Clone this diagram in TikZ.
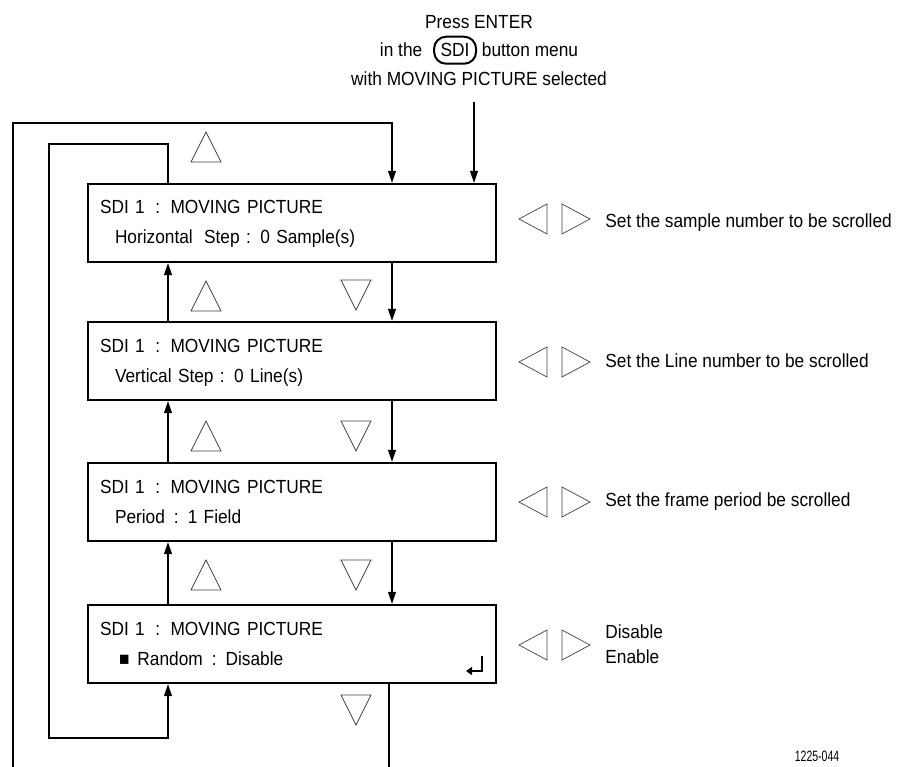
\documentclass[tikz,border=0pt]{standalone}
\usepackage{fontspec}
\setmainfont{Liberation Sans}[FakeStretch=0.91]
\newfontfamily\idfont{Liberation Sans}[FakeStretch=0.7]
\usepackage{tikz}
\usetikzlibrary{arrows.meta,positioning,calc}
\newcommand{\sdikey}{\tikz[baseline=(key.base)]\node[draw, line width=2pt, rounded corners=12pt, minimum width=42pt, minimum height=27pt, inner sep=0pt] (key) {SDI};}

\begin{document}
\begin{tikzpicture}[x=1pt, y=-1pt,
          menu/.style={draw, line width=2.4pt, text width=384pt, inner xsep=12pt, inner ysep=0pt, minimum height=78pt, align=left, font=\fontsize{19}{30}\selectfont},
          head/.style={anchor=north, align=center, inner sep=0pt, font=\fontsize{19}{28.5}\selectfont},
          side/.style={inner sep=0pt, align=left, font=\fontsize{19}{25}\selectfont},
          tri/.style={draw=black!75, line width=0.7pt, line join=miter},
          link/.style={line width=1.2pt},
          arr/.style={-{Triangle[length=12pt, width=8pt]}, line width=1.2pt}]
        \useasboundingbox (0,0) rectangle (904,767);
        \node[head] (press) at (479,15) {Press ENTER\\in the\hspace{6pt} \sdikey\ button menu\\with MOVING PICTURE selected};
        \node[menu] (m1) at (292,223) {\strut SDI 1\hspace{10.5pt}:\hspace{10.5pt}MOVING PICTURE\\\strut\hspace*{15pt}Horizontal\hspace{5pt} Step : 0 Sample(s)};
        \node[menu] (m2) at (292,361) {\strut SDI 1\hspace{10.5pt}:\hspace{10.5pt}MOVING PICTURE\\\strut\hspace*{15pt}Vertical Step : 0 Line(s)};
        \node[menu] (m3) at (292,502) {\strut SDI 1\hspace{10.5pt}:\hspace{10.5pt}MOVING PICTURE\\\strut\hspace*{15pt}Period\hspace{9pt}:\hspace{9pt}1 Field};
        \node[menu] (m4) at (292,644) {\strut SDI 1\hspace{10.5pt}:\hspace{10.5pt}MOVING PICTURE\\\strut\hspace*{19pt}■\hspace{8pt}Random\hspace{9pt}:\hspace{9pt}Disable};
        \node[side, right=108pt of m1] (s1) {Set the sample number to be scrolled};
        \node[side, right=108pt of m2] (s2) {Set the Line number to be scrolled};
        \node[side, right=108pt of m3] (s3) {Set the frame period be scrolled};
        \node[side, right=108pt of m4] (s4) {Disable\\Enable};
        \node[font=\idfont\fontsize{15}{15}\selectfont] (figid) at (817,756) {1225-044};
        % loop ends
        \coordinate (entry) at (474,102);
        \coordinate (otr) at (392,123);
        \coordinate (outbl) at (13,767);
        \coordinate (outbr) at (389,767);
        \coordinate (itr) at (168,144);
        \coordinate (ibl) at (49,738);
        \draw[arr] (entry) -- (entry |- m1.north);
        \draw[arr] (outbl) |- (otr) -- (otr |- m1.north);
        \draw[link] (m4.south -| outbr) -- (outbr);
        \draw[arr] (m1.north -| itr) -- (itr) -| (ibl) -| (m4.south -| itr);
        \draw[arr] (m1.south -| otr) -- (m2.north -| otr);
        \draw[arr] (m2.south -| otr) -- (m3.north -| otr);
        \draw[arr] (m3.south -| otr) -- (m4.north -| otr);
        \draw[arr] (m2.north -| itr) -- (m1.south -| itr);
        \draw[arr] (m3.north -| itr) -- (m2.south -| itr);
        \draw[arr] (m4.north -| itr) -- (m3.south -| itr);
        % enter key
        \draw[line width=1.8pt, -{Triangle[length=6pt, width=8pt]}] (482,656) |- (466,671);
        % up / down keys
        \draw[tri] (191,162) -- (206,132) -- (221,162) -- cycle;
        \draw[tri] (191,311) -- (206,281) -- (221,311) -- cycle;
        \draw[tri] (191,451) -- (206,421) -- (221,451) -- cycle;
        \draw[tri] (191,590) -- (206,560) -- (221,590) -- cycle;
        \draw[tri] (341,280) -- (356,310) -- (371,280) -- cycle;
        \draw[tri] (341,421) -- (356,451) -- (371,421) -- cycle;
        \draw[tri] (341,560) -- (356,590) -- (371,560) -- cycle;
        \draw[tri] (341,695) -- (356,725) -- (371,695) -- cycle;
        % left / right keys
        \draw[tri] (547,204) -- (519,219) -- (547,234) -- cycle;
        \draw[tri] (562,204) -- (590,219) -- (562,234) -- cycle;
        \draw[tri] (547,347) -- (519,362) -- (547,377) -- cycle;
        \draw[tri] (562,347) -- (590,362) -- (562,377) -- cycle;
        \draw[tri] (547,487) -- (519,502) -- (547,517) -- cycle;
        \draw[tri] (562,487) -- (590,502) -- (562,517) -- cycle;
        \draw[tri] (547,630) -- (519,645) -- (547,660) -- cycle;
        \draw[tri] (562,630) -- (590,645) -- (562,660) -- cycle;
      \end{tikzpicture}
\end{document}
